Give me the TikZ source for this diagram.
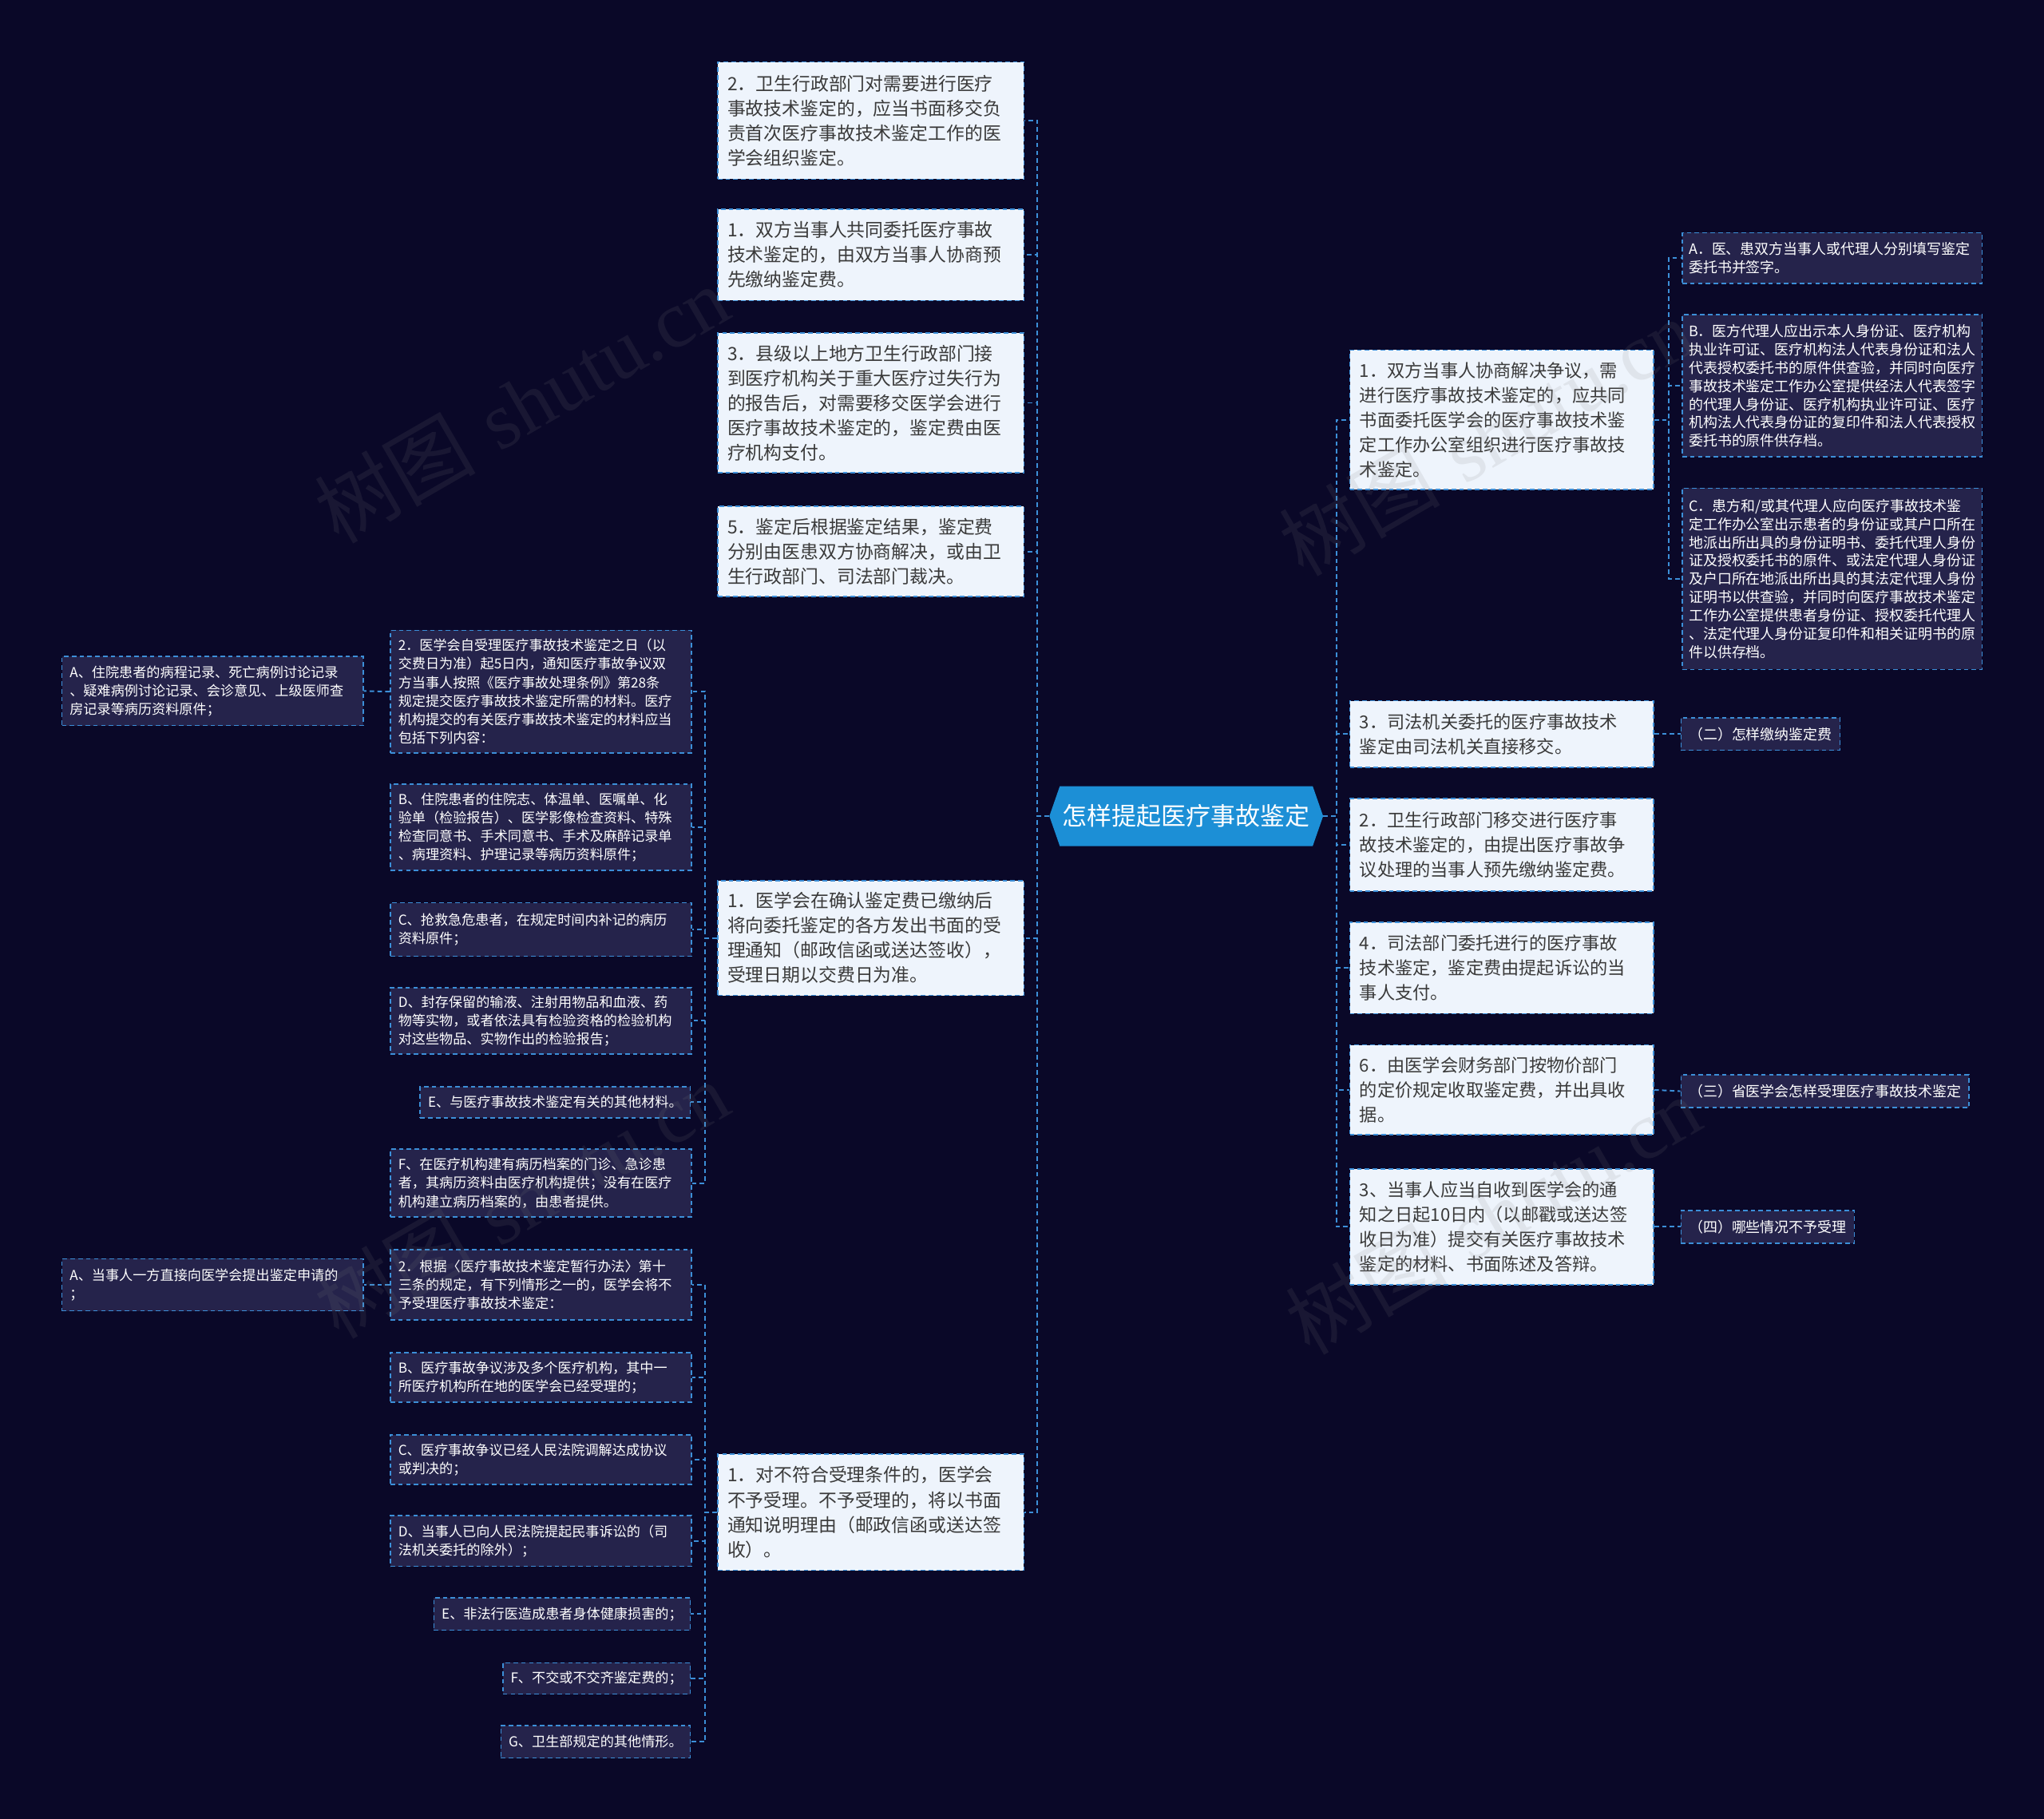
\documentclass[tikz,border=0pt]{standalone}
\usepackage{fontspec}
\newfontfamily\cjk{Noto Sans CJK SC}
\newfontfamily\wmserif{Liberation Serif}
\definecolor{bgc}{HTML}{0A0828}
\definecolor{lightfill}{HTML}{EEF4FC}
\definecolor{darkfill}{HTML}{25234B}
\definecolor{bord}{HTML}{3C8FD8}
\definecolor{textdark}{HTML}{3A3A3A}
\definecolor{centc}{HTML}{1C8FD6}
\tikzset{
  boxbase/.style={draw=bord, line width=1pt, dash pattern=on 3.5pt off 2.5pt, inner ysep=0pt, align=left, anchor=north west},
  lbox/.style={boxbase, fill=lightfill, text=textdark, font=\cjk\fontsize{14}{19}\selectfont, inner xsep=7.5pt, text width=220pt},
  rbox/.style={boxbase, fill=lightfill, text=textdark, font=\cjk\fontsize{13.6}{19}\selectfont, inner xsep=7.5pt, text width=218pt},
  dbox/.style={boxbase, fill=darkfill, text=white, font=\cjk\fontsize{10.5}{14.2}\selectfont, inner xsep=6pt},
  dboxw/.style={dbox, text width=219pt},
  drbox/.style={boxbase, fill=darkfill, text=white, font=\cjk\fontsize{11}{14}\selectfont, inner xsep=5pt},
  conn/.style={draw=bord, line width=1.2pt, dash pattern=on 3.5pt off 2.5pt},
  wm/.style={text=gray, text opacity=0.13, font=\fontsize{62}{62}\selectfont, rotate=30, inner sep=0pt}
}
\begin{document}
\begin{tikzpicture}[x=1pt,y=-1pt]
\useasboundingbox (0,0) rectangle (1568,1395);
\fill[bgc] (0,0) rectangle (1568,1395);

% centre
\fill[centc] (805,626) -- (813,603) -- (1007,603) -- (1015,626) -- (1007,649) -- (813,649) -- cycle;
\node[font=\cjk\fontsize{19}{22}\selectfont, text=white, minimum width=210pt, minimum height=46pt, inner sep=0pt] (C) at (910,626) {怎样提起医疗事故鉴定};

% left level 1
\node[lbox, minimum height=90pt] (L1) at (550,47) {2．卫生行政部门对需要进行医疗\\事故技术鉴定的，应当书面移交负\\责首次医疗事故技术鉴定工作的医\\学会组织鉴定。};
\node[lbox, minimum height=70pt] (L2) at (550,160) {1．双方当事人共同委托医疗事故\\技术鉴定的，由双方当事人协商预\\先缴纳鉴定费。};
\node[lbox, minimum height=107pt] (L3) at (550,255) {3．县级以上地方卫生行政部门接\\到医疗机构关于重大医疗过失行为\\的报告后，对需要移交医学会进行\\医疗事故技术鉴定的，鉴定费由医\\疗机构支付。};
\node[lbox, minimum height=69pt] (L4) at (550,388) {5．鉴定后根据鉴定结果，鉴定费\\分别由医患双方协商解决，或由卫\\生行政部门、司法部门裁决。};
\node[lbox, minimum height=88pt] (L5) at (550,675) {1．医学会在确认鉴定费已缴纳后\\将向委托鉴定的各方发出书面的受\\理通知（邮政信函或送达签收），\\受理日期以交费日为准。};
\node[lbox, minimum height=89pt] (L6) at (550,1115) {1．对不符合受理条件的，医学会\\不予受理。不予受理的，将以书面\\通知说明理由（邮政信函或送达签\\收）。};

% children of L5
\node[dboxw, minimum height=94pt] (A5a) at (299,483) {2．医学会自受理医疗事故技术鉴定之日（以\\交费日为准）起5日内，通知医疗事故争议双\\方当事人按照《医疗事故处理条例》第28条\\规定提交医疗事故技术鉴定所需的材料。医疗\\机构提交的有关医疗事故技术鉴定的材料应当\\包括下列内容：};
\node[dboxw, minimum height=53pt] (A5aa) at (47,503) {A、住院患者的病程记录、死亡病例讨论记录\\、疑难病例讨论记录、会诊意见、上级医师查\\房记录等病历资料原件；};
\node[dboxw, minimum height=66pt] (A5b) at (299,601) {B、住院患者的住院志、体温单、医嘱单、化\\验单（检验报告）、医学影像检查资料、特殊\\检查同意书、手术同意书、手术及麻醉记录单\\、病理资料、护理记录等病历资料原件；};
\node[dboxw, minimum height=41pt] (A5c) at (299,692) {C、抢救急危患者，在规定时间内补记的病历\\资料原件；};
\node[dboxw, minimum height=51pt] (A5d) at (299,757) {D、封存保留的输液、注射用物品和血液、药\\物等实物，或者依法具有检验资格的检验机构\\对这些物品、实物作出的检验报告；};
\node[dbox, anchor=north east, minimum height=24pt] (A5e) at (530,833) {E、与医疗事故技术鉴定有关的其他材料。};
\node[dboxw, minimum height=52pt] (A5f) at (299,881) {F、在医疗机构建有病历档案的门诊、急诊患\\者，其病历资料由医疗机构提供；没有在医疗\\机构建立病历档案的，由患者提供。};

% children of L6
\node[dboxw, minimum height=54pt] (A6a) at (299,958) {2．根据〈医疗事故技术鉴定暂行办法〉第十\\三条的规定，有下列情形之一的，医学会将不\\予受理医疗事故技术鉴定：};
\node[dboxw, minimum height=40pt] (A6aa) at (47,965) {A、当事人一方直接向医学会提出鉴定申请的\\；};
\node[dboxw, minimum height=38pt] (A6b) at (299,1037) {B、医疗事故争议涉及多个医疗机构，其中一\\所医疗机构所在地的医学会已经受理的；};
\node[dboxw, minimum height=38pt] (A6c) at (299,1100) {C、医疗事故争议已经人民法院调解达成协议\\或判决的；};
\node[dboxw, minimum height=39pt] (A6d) at (299,1162) {D、当事人已向人民法院提起民事诉讼的（司\\法机关委托的除外）；};
\node[dbox, anchor=north east, minimum height=25pt] (A6e) at (530,1225) {E、非法行医造成患者身体健康损害的；};
\node[dbox, anchor=north east, minimum height=24pt] (A6f) at (530,1275) {F、不交或不交齐鉴定费的；};
\node[dbox, anchor=north east, minimum height=25pt] (A6g) at (530,1323) {G、卫生部规定的其他情形。};

% right level 1
\node[rbox, minimum height=107pt] (R1) at (1035,268) {1．双方当事人协商解决争议，需\\进行医疗事故技术鉴定的，应共同\\书面委托医学会的医疗事故技术鉴\\定工作办公室组织进行医疗事故技\\术鉴定。};
\node[rbox, minimum height=51pt] (R2) at (1035,537) {3．司法机关委托的医疗事故技术\\鉴定由司法机关直接移交。};
\node[rbox, minimum height=71pt] (R3) at (1035,612) {2．卫生行政部门移交进行医疗事\\故技术鉴定的，由提出医疗事故争\\议处理的当事人预先缴纳鉴定费。};
\node[rbox, minimum height=70pt] (R4) at (1035,707) {4．司法部门委托进行的医疗事故\\技术鉴定，鉴定费由提起诉讼的当\\事人支付。};
\node[rbox, minimum height=69pt] (R5) at (1035,801) {6．由医学会财务部门按物价部门\\的定价规定收取鉴定费，并出具收\\据。};
\node[rbox, minimum height=89pt] (R6) at (1035,896) {3、当事人应当自收到医学会的通\\知之日起10日内（以邮戳或送达签\\收日为准）提交有关医疗事故技术\\鉴定的材料、书面陈述及答辩。};

% right level 2
\node[drbox, text width=220pt, minimum height=39pt] (RA) at (1290,178) {A．医、患双方当事人或代理人分别填写鉴定\\委托书并签字。};
\node[drbox, text width=220pt, minimum height=109pt] (RB) at (1290,241) {B．医方代理人应出示本人身份证、医疗机构\\执业许可证、医疗机构法人代表身份证和法人\\代表授权委托书的原件供查验，并同时向医疗\\事故技术鉴定工作办公室提供经法人代表签字\\的代理人身份证、医疗机构执业许可证、医疗\\机构法人代表身份证的复印件和法人代表授权\\委托书的原件供存档。};
\node[drbox, text width=220pt, minimum height=139pt] (RC) at (1290,374) {C．患方和/或其代理人应向医疗事故技术鉴\\定工作办公室出示患者的身份证或其户口所在\\地派出所出具的身份证明书、委托代理人身份\\证及授权委托书的原件、或法定代理人身份证\\及户口所在地派出所出具的其法定代理人身份\\证明书以供查验，并同时向医疗事故技术鉴定\\工作办公室提供患者身份证、授权委托代理人\\、法定代理人身份证复印件和相关证明书的原\\件以供存档。};
\node[drbox, inner xsep=6pt, minimum height=25pt] (R2c) at (1289,550) {（二）怎样缴纳鉴定费};
\node[drbox, inner xsep=6pt, minimum height=25pt] (R5c) at (1289,824) {（三）省医学会怎样受理医疗事故技术鉴定};
\node[drbox, inner xsep=6pt, minimum height=25pt] (R6c) at (1289,928) {（四）哪些情况不予受理};

% connectors
\foreach \n in {L1,L2,L3,L4,L5,L6} \draw[conn] (C.west) -- ++(-9,0) |- (\n.east);
\foreach \n in {R1,R2,R3,R4,R5,R6} \draw[conn] (C.east) -- ++(10,0) |- (\n.west);
\foreach \n in {A5a,A5b,A5c,A5d,A5e,A5f} \draw[conn] (L5.west) -- ++(-9,0) |- (\n.east);
\foreach \n in {A6a,A6b,A6c,A6d,A6e,A6f,A6g} \draw[conn] (L6.west) -- ++(-9,0) |- (\n.east);
\draw[conn] (A5a.west) -- (A5aa.east);
\draw[conn] (A6a.west) -- (A6aa.east);
\foreach \n in {RA,RB,RC} \draw[conn] (R1.east) -- ++(11,0) |- (\n.west);
\draw[conn] (R2.east) -- (R2c.west);
\draw[conn] (R5.east) -- (R5c.west);
\draw[conn] (R6.east) -- (R6c.west);

% watermarks
\node[wm] (wm1) at (400,310) {{\cjk 树图} \wmserif shutu.cn};
\node[wm] (wm2) at (1140,335) {{\cjk 树图} \wmserif shutu.cn};
\node[wm] (wm3) at (400,920) {{\cjk 树图} \wmserif shutu.cn};
\node[wm] (wm4) at (1145,932) {{\cjk 树图} \wmserif shutu.cn};
\end{tikzpicture}
\end{document}
